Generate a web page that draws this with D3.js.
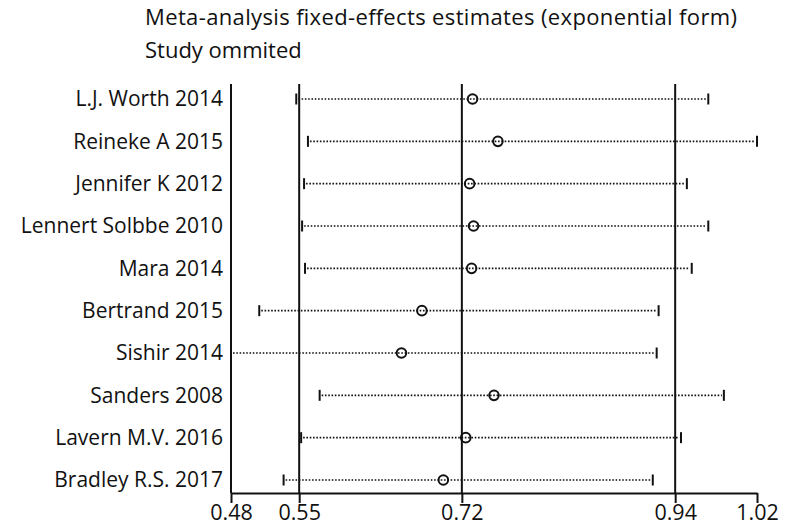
<!DOCTYPE html>
<html>
<head>
<meta charset="utf-8">
<script src="https://cdn.jsdelivr.net/npm/d3@7"></script>
<style>
  body { margin: 0; background: #fff; }
  text { font-family: "Open Sans", "Noto Sans", sans-serif; fill: #111; }
</style>
</head>
<body>
<div id="chart"></div>
<script>
// study omitted, estimate and 95% CI (exponential form)
const studies = ['L.J. Worth 2014', 'Reineke A 2015', 'Jennifer K 2012', 'Lennert Solbbe 2010', 'Mara 2014',
    'Bertrand 2015', 'Sishir 2014', 'Sanders 2008', 'Lavern M.V. 2016', 'Bradley R.S. 2017']
const estimates = [0.728, 0.754, 0.725, 0.729, 0.727, 0.676, 0.655, 0.750, 0.721, 0.698]
const lowerCI = [0.547, 0.559, 0.555, 0.553, 0.556, 0.509, 0.480, 0.571, 0.552, 0.534]
const upperCI = [0.970, 1.020, 0.948, 0.970, 0.953, 0.919, 0.917, 0.986, 0.942, 0.913]

// reference lines: overall lower CI, estimate, upper CI
const refLines = [0.55, 0.717, 0.936]
const tickValues = [0.48, 0.55, 0.717, 0.936, 1.02]
const tickLabels = ['0.48', '0.55', '0.72', '0.94', '1.02']

const width = 787, height = 526

const svg = d3.select('#chart')
    .append('svg')
    .attr('width', width)
    .attr('height', height)

const x = d3.scaleLinear().domain([0.48, 1.02]).range([231, 757])
const y = d3.scalePoint().domain(studies).range([99, 480])
const plotTop = 84, plotBottom = 493
const fontSize = '21px'

svg.append('text')
    .attr('x', 145).attr('y', 17)
    .attr('dy', '0.35em')
    .attr('textLength', 592)
    .style('font-size', '22px')
    .text('Meta-analysis fixed-effects estimates (exponential form)')

svg.append('text')
    .attr('x', 145).attr('y', 50)
    .attr('dy', '0.35em')
    .style('font-size', '22px')
    .text('Study ommited')

// x axis
const axis = d3.axisBottom(x)
    .tickValues(tickValues)
    .tickFormat((d, i) => tickLabels[i])
    .tickSize(10)
    .tickSizeOuter(0)

const gx = svg.append('g')
    .attr('transform', `translate(0,${plotBottom})`)
    .call(axis)
gx.select('.domain').attr('stroke', '#111').attr('stroke-width', 2)
gx.selectAll('.tick line').attr('stroke', '#111').attr('stroke-width', 2)
gx.selectAll('.tick text')
    .attr('y', 12)
    .style('font-size', '21.5px')
    .style('font-family', '"Open Sans", "Noto Sans", sans-serif')
    .style('fill', '#111')

// left axis line
svg.append('line')
    .attr('x1', x(0.48)).attr('x2', x(0.48))
    .attr('y1', plotTop).attr('y2', plotBottom)
    .attr('stroke', '#111').attr('stroke-width', 2)

svg.selectAll('.ref')
    .data(refLines)
    .enter()
    .append('line')
    .attr('x1', d => x(d)).attr('x2', d => x(d))
    .attr('y1', plotTop).attr('y2', plotBottom)
    .attr('stroke', '#111').attr('stroke-width', 2)

// study labels
svg.selectAll('.label')
    .data(studies)
    .enter()
    .append('text')
    .attr('x', 223)
    .attr('y', d => y(d))
    .attr('dy', '0.35em')
    .attr('text-anchor', 'end')
    .style('font-size', fontSize)
    .text(d => d)

const rows = svg.selectAll('.row')
    .data(studies)
    .enter()
    .append('g')

rows.append('line')
    .attr('x1', (d, i) => x(lowerCI[i]) + 2)
    .attr('x2', (d, i) => x(upperCI[i]) - 2)
    .attr('y1', d => y(d)).attr('y2', d => y(d))
    .attr('stroke', '#111')
    .attr('stroke-width', 1.6)
    .attr('stroke-dasharray', '1.6,1.7')

rows.append('line')
    .attr('x1', (d, i) => x(lowerCI[i])).attr('x2', (d, i) => x(lowerCI[i]))
    .attr('y1', d => y(d) - 5.5).attr('y2', d => y(d) + 5.5)
    .attr('stroke', '#111').attr('stroke-width', 2)

rows.append('line')
    .attr('x1', (d, i) => x(upperCI[i])).attr('x2', (d, i) => x(upperCI[i]))
    .attr('y1', d => y(d) - 5.5).attr('y2', d => y(d) + 5.5)
    .attr('stroke', '#111').attr('stroke-width', 2)

rows.append('circle')
    .attr('cx', (d, i) => x(estimates[i]))
    .attr('cy', d => y(d))
    .attr('r', 4.8)
    .attr('fill', 'none')
    .attr('stroke', '#111')
    .attr('stroke-width', 2)
</script>
</body>
</html>
